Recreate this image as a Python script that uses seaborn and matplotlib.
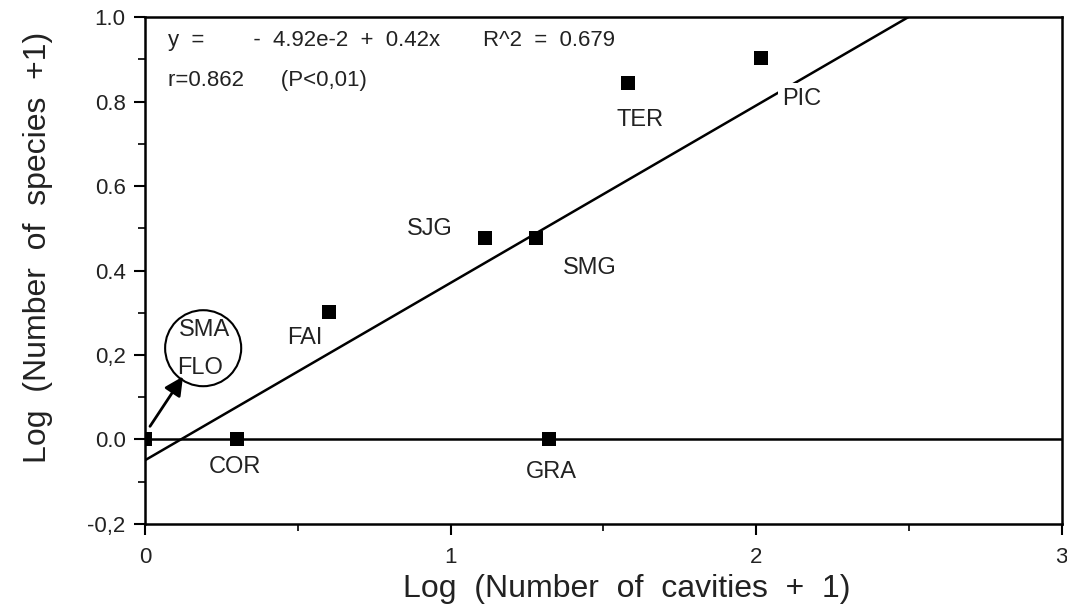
# Log species vs log cavities, with regression line
import numpy as np
import pandas as pd
import matplotlib
matplotlib.use("Agg")
import matplotlib.pyplot as plt
from matplotlib.patches import Ellipse
import seaborn as sns

# data
sites = ["SMA/FLO", "COR", "FAI", "SJG", "SMG", "GRA", "TER", "PIC"]
log_cavities = [0.0, 0.301, 0.602, 1.114, 1.279, 1.322, 1.580, 2.017]
log_species = [0.0, 0.0, 0.301, 0.477, 0.477, 0.0, 0.845, 0.903]

intercept = -0.0492
slope = 0.42

y_ticks = [-0.2, 0.0, 0.2, 0.4, 0.6, 0.8, 1.0]
y_tick_labels = ["-0,2", "0.0", "0,2", "0.4", "0.6", "0.8", "1.0"]
x_ticks = [0, 1, 2, 3]

df = pd.DataFrame({"site": sites, "x": log_cavities, "y": log_species})

sns.set_style("ticks")
plt.rcParams["font.family"] = ["Liberation Sans", "DejaVu Sans"]

fig = plt.figure(figsize=(10.67, 6.12), dpi=100)
ax = fig.add_axes([0.136, 0.144, 0.859, 0.828])

# reference lines
ax.axhline(0, color="black", lw=1.8, zorder=1)
ax.axline((0, intercept), slope=slope, color="black", lw=1.8, zorder=1)

# points
sns.scatterplot(data=df, x="x", y="y", marker="s", s=100, color="black",
                edgecolor="black", linewidth=0, ax=ax, zorder=3, legend=False)

# point labels
lab_kw = dict(fontsize=17, color="#222222", ha="center", va="center")
ax.text(0.524, 0.239, "FAI", **lab_kw)
ax.text(0.933, 0.498, "SJG", **lab_kw)
ax.text(1.457, 0.405, "SMG", **lab_kw)
ax.text(1.62, 0.756, "TER", **lab_kw)
ax.text(2.15, 0.806, "PIC", zorder=4,
        bbox=dict(boxstyle="square,pad=0.2", fc="white", ec="none"), **lab_kw)
ax.text(0.295, -0.066, "COR", **lab_kw)
ax.text(1.33, -0.076, "GRA", **lab_kw)

# circled SMA / FLO with arrow to origin point
ax.add_patch(Ellipse((0.19, 0.216), width=0.249, height=0.18, fc="white",
                     ec="black", lw=1.5, zorder=2))
ax.text(0.195, 0.258, "SMA", zorder=4, **lab_kw)
ax.text(0.18, 0.168, "FLO", zorder=4, **lab_kw)
ax.annotate("", xy=(0.124, 0.149), xytext=(0.016, 0.031),
            arrowprops=dict(arrowstyle="-|>", color="black", lw=2,
                            mutation_scale=28, shrinkA=0, shrinkB=0))

# equation text
ax.text(0.075, 0.945, "y  =        -  4.92e-2  +  0.42x       R^2  =  0.679",
        fontsize=16, color="#222222", va="center")
ax.text(0.075, 0.85, "r=0.862      (P<0,01)", fontsize=16, color="#222222",
        va="center")

ax.set_xlim(0, 3)
ax.set_ylim(-0.2, 1.0)
ax.set_xticks(x_ticks)
ax.set_xticklabels([str(t) for t in x_ticks])
ax.set_yticks(y_ticks)
ax.set_yticklabels(y_tick_labels)
ax.set_xticks([0.5, 1.5, 2.5], minor=True)
ax.set_yticks([-0.1, 0.1, 0.3, 0.5, 0.7, 0.9], minor=True)
ax.tick_params(axis="both", which="major", direction="out", length=8,
               width=1.5, labelsize=16, colors="black", labelcolor="#222222")
ax.tick_params(axis="x", which="major", pad=9)
ax.tick_params(axis="y", which="major", pad=6)
ax.tick_params(axis="both", which="minor", direction="out", length=5,
               width=1.2, colors="black")

for sp in ax.spines.values():
    sp.set_visible(True)
    sp.set_color("black")
    sp.set_linewidth(1.8)

ax.set_xlabel("Log  (Number  of  cavities  +  1)", fontsize=23,
              color="#222222")
ax.xaxis.set_label_coords(0.526, -0.098, transform=ax.transAxes)
ax.set_ylabel("Log  (Number  of  species  +1)", fontsize=23, color="#222222")
ax.yaxis.set_label_coords(-0.101, 0.546, transform=ax.transAxes)

fig.savefig("out.png", dpi=100, facecolor="white")
